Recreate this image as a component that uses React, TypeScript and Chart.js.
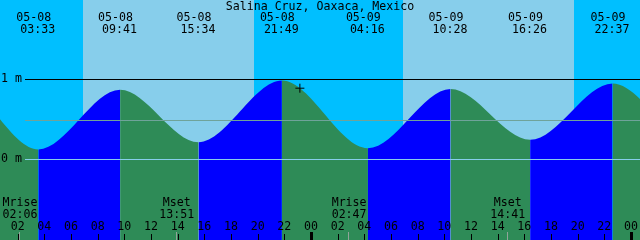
import React, { useEffect, useRef } from 'react';
import { Chart, registerables } from 'chart.js';

Chart.register(...registerables);

// ---------- data ----------
const title = 'Salina Cruz, Oaxaca, Mexico';

// tide extremes (the first two and last two lie outside the visible window)
const tideTimes = [
  '05-07 15:05',
  '05-07 21:20',
  '05-08 03:33',
  '05-08 09:41',
  '05-08 15:34',
  '05-08 21:49',
  '05-09 04:16',
  '05-09 10:28',
  '05-09 16:26',
  '05-09 22:37',
  '05-10 05:00',
  '05-10 11:15',
];
const tideLevels = [0.2, 0.97, 0.12, 0.866, 0.21, 0.98, 0.135, 0.875, 0.24, 0.945, 0.15, 0.87];

const sunriseTimes = ['05-08 06:54', '05-09 06:54'];
const sunsetTimes = ['05-08 19:44', '05-09 19:44'];

const moonLabels = ['Mrise', 'Mset', 'Mrise', 'Mset'];
const moonTimes = ['05-08 02:06', '05-08 13:51', '05-09 02:47', '05-09 14:41'];

const nowTime = '05-08 23:10';
const nowLevel = 0.885;

const tickHours = [2, 4, 6, 8, 10, 12, 14, 16, 18, 20, 22, 24, 26, 28, 30, 32, 34, 36, 38, 40, 42, 44, 46, 48];

const levelLines = [1, 0.4875, 0];
const levelLabels = ['1 m', '', '0 m'];

const viewStartHour = 0.675;
const viewHours = 48;
const levelMin = -1.0125;
const levelMax = 1.9875;

// ---------- styles ----------
const NIGHT = '#00BFFF';
const DAY = '#87CEEB';
const FALL = '#2E8B57';
const RISE = '#0000FF';
const LINE_COLORS = ['#000000', '#6FA39A', '#87CEEB'];
const FONT = '11.6px "DejaVu Sans Mono", monospace';

const toHours = (s: string) => {
  const [md, hm] = s.split(' ');
  const day = parseInt(md.split('-')[1], 10);
  const [h, m] = hm.split(':').map(Number);
  return (day - 8) * 24 + h + m / 60;
};
const pad = (n: number) => (n < 10 ? '0' : '') + n;

const decorPlugin = {
  id: 'tideDecor',
  beforeDatasetsDraw(chart: any) {
    const { ctx } = chart;
    const xs = chart.scales.x;
    ctx.save();
    ctx.fillStyle = NIGHT;
    ctx.fillRect(0, 0, chart.width, chart.height);
    ctx.fillStyle = DAY;
    for (let i = 0; i < sunriseTimes.length; i++) {
      const x1 = Math.round(xs.getPixelForValue(toHours(sunriseTimes[i])));
      const x2 = Math.round(xs.getPixelForValue(toHours(sunsetTimes[i])));
      ctx.fillRect(x1, 0, x2 - x1, chart.height);
    }
    ctx.restore();
  },
  afterDatasetsDraw(chart: any) {
    const { ctx } = chart;
    const xs = chart.scales.x;
    const ys = chart.scales.y;
    const W = chart.width;
    ctx.save();
    ctx.font = FONT;
    ctx.textBaseline = 'alphabetic';

    // level lines + labels
    levelLines.forEach((lv, i) => {
      const row = Math.round(ys.getPixelForValue(lv));
      ctx.fillStyle = LINE_COLORS[i];
      ctx.fillRect(25, row, W - 25, 1);
      if (levelLabels[i]) {
        ctx.fillStyle = '#000';
        ctx.textAlign = 'left';
        ctx.fillText(levelLabels[i], 1, row + 3);
      }
    });

    // title
    ctx.fillStyle = '#000';
    ctx.textAlign = 'center';
    ctx.fillText(title, W / 2, 10);

    // tide event labels
    ctx.textAlign = 'left';
    tideTimes.forEach((t) => {
      const h = toHours(t);
      if (h < viewStartHour || h > viewStartHour + viewHours) return;
      const px = xs.getPixelForValue(h);
      const [md, hm] = t.split(' ');
      ctx.fillText(md, px - 22, 21);
      ctx.fillText(hm, px - 18, 33);
    });

    // moon events
    ctx.textAlign = 'center';
    moonTimes.forEach((t, i) => {
      const px = xs.getPixelForValue(toHours(t));
      ctx.fillStyle = '#000';
      ctx.fillText(moonLabels[i], px + 1, 206);
      ctx.fillText(t.split(' ')[1], px + 1, 218);
      ctx.fillStyle = 'rgba(170,170,170,0.8)';
      ctx.fillRect(Math.round(px), 232, 1, 8);
    });

    // hour ticks + labels
    tickHours.forEach((h) => {
      const px = xs.getPixelForValue(h);
      const col = Math.round(px);
      ctx.fillStyle = '#000';
      ctx.textAlign = 'center';
      ctx.fillText(pad(h % 24), px, 230);
      if (h % 24 === 0) ctx.fillRect(col - 1, 232, 3, 8);
      else ctx.fillRect(col, 234, 1, 6);
    });
    ctx.restore();
  },
};

export default function App() {
  const ref = useRef<HTMLCanvasElement>(null);
  useEffect(() => {
    document.body.style.margin = '0';
    const canvas = ref.current!;
    const chart = new Chart(canvas, {
      type: 'line',
      data: {
        datasets: [
          {
            data: tideTimes.map((t, i) => ({ x: toHours(t), y: tideLevels[i] })),
            order: 2,
            fill: 'start',
            cubicInterpolationMode: 'monotone',
            pointRadius: 0,
            borderWidth: 0,
            borderColor: 'rgba(0,0,0,0)',
            backgroundColor: FALL,
            clip: false,
            segment: {
              backgroundColor: (c: any) => (c.p1.parsed.y > c.p0.parsed.y ? RISE : FALL),
            },
          } as any,
          {
            data: [{ x: toHours(nowTime), y: nowLevel }],
            order: 1,
            showLine: false,
            fill: false,
            pointStyle: 'cross',
            pointRadius: 4.5,
            borderColor: '#000',
            backgroundColor: '#000',
            borderWidth: 1,
          } as any,
        ],
      },
      options: {
        animation: false,
        responsive: false,
        events: [],
        layout: { padding: 0, autoPadding: false },
        plugins: { legend: { display: false }, tooltip: { enabled: false } },
        scales: {
          x: { type: 'linear', min: viewStartHour, max: viewStartHour + viewHours, display: false },
          y: { type: 'linear', min: levelMin, max: levelMax, display: false },
        },
      },
      plugins: [decorPlugin],
    });
    return () => chart.destroy();
  }, []);
  return (
    <div style={{ position: 'absolute', left: 0, top: 0, width: 640, height: 240 }}>
      <canvas ref={ref} width={640} height={240} style={{ display: 'block' }} />
    </div>
  );
}
